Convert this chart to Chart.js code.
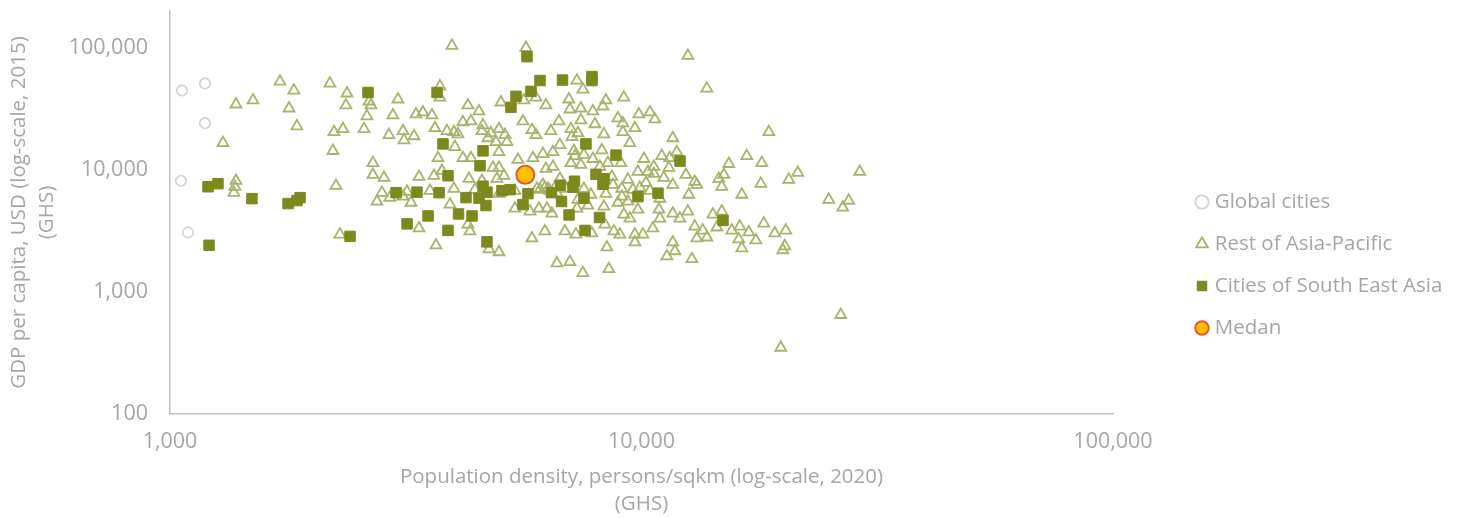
<!DOCTYPE html>
<html>
<head>
<meta charset="utf-8">
<script src="https://cdn.jsdelivr.net/npm/chart.js@4.4.1/dist/chart.umd.min.js"></script>
<style>
  html, body { margin: 0; padding: 0; background: #fff; }
  #wrap { width: 1459px; height: 518px; }
</style>
</head>
<body>
<div id="wrap"><canvas id="densityChart" width="1459" height="518"></canvas></div>
<script>
// [population density (persons/sqkm), GDP per capita (USD)]
const globalCities = [
  [1060, 44700], [1186, 51000], [1186, 24100], [1055, 8140], [1092, 3075]
];

const restOfAsia = [
  [1711, 52900], [1831, 44700], [2184, 51000], [2373, 42300], [1380, 34400],
  [1500, 37100], [1788, 31900], [2361, 33800], [2643, 36400], [2668, 33800],
  [3044, 37800], [2970, 28000], [2617, 27500], [1859, 22800], [2327, 21600],
  [2227, 20400], [2579, 21600], [2913, 19300], [1295, 16600], [2216, 14300],
  [2694, 11400], [2694, 9110], [2843, 8610], [1380, 8140], [1373, 7280],
  [1366, 6500], [2249, 7410], [2815, 6500], [2747, 5500], [2927, 5920],
  [2293, 2960], [3962, 104000], [5687, 100000], [3737, 48200], [3737, 39200],
  [4284, 33800], [4521, 30200], [5034, 35700], [5631, 37100], [5972, 39200],
  [6270, 33800], [3324, 28500], [3439, 29600], [3594, 28000], [3647, 22000],
  [3120, 20800], [3292, 18900], [3135, 17500], [3867, 20800], [4001, 20400],
  [4181, 24600], [4347, 25000], [4081, 19600], [4610, 23200], [4588, 20800],
  [4793, 20000], [4985, 21600], [4724, 18200], [4912, 16900], [5133, 19300],
  [5183, 16900], [5604, 25000], [5856, 21200], [5972, 19300], [6424, 20800],
  [6681, 25000], [4021, 15400], [3701, 12500], [4181, 12500], [4347, 12500],
  [4985, 14000], [5469, 12100], [5885, 12500], [6179, 13500], [6488, 14000],
  [4841, 10400], [4985, 10400], [4936, 8450], [5108, 8940], [4305, 8450],
  [3629, 8940], [3774, 9820], [3373, 8770], [6270, 10200], [6488, 10600],
  [4588, 8140], [4001, 7010], [3559, 6750], [3181, 6630], [3120, 6040],
  [3244, 5390], [3924, 5200], [4433, 6880], [4985, 6380], [5389, 6750],
  [5389, 4820], [5799, 4560], [6060, 4820], [6301, 4820], [6456, 4390],
  [6001, 7010], [6179, 7550], [6332, 7010], [3373, 3320], [4284, 3570],
  [4326, 3140], [6239, 3140], [5856, 2750], [3665, 2410], [4748, 2240],
  [4985, 2120], [6616, 1720], [6089, 6880], [6239, 7140], [6393, 6750],
  [6551, 7140], [6616, 6500], [12540, 86100], [13760, 46400], [7294, 53900],
  [7511, 45600], [7015, 37800], [8403, 37100], [9174, 39200], [7049, 31300],
  [7437, 31900], [7887, 30200], [8281, 33100], [9872, 28500], [10420, 29600],
  [10670, 26000], [8911, 26500], [9130, 24100], [7437, 25500], [7964, 23700],
  [9680, 22000], [7084, 21600], [7118, 18600], [7330, 20000], [8321, 19600],
  [9130, 20400], [9447, 16600], [11650, 18200], [6713, 16000], [7188, 14300],
  [7223, 13000], [7547, 13300], [8240, 14500], [7887, 12300], [7084, 11400],
  [7437, 11000], [8486, 11400], [9041, 11400], [10120, 12300], [11040, 13000],
  [11480, 12500], [11880, 14000], [9824, 9640], [10320, 9640], [10620, 10600],
  [10620, 9280], [11430, 10400], [12420, 9110], [12970, 7990], [13100, 7550],
  [14590, 8450], [6713, 8450], [6913, 7010], [7547, 7010], [8696, 7550],
  [9085, 7010], [9587, 6880], [10220, 7840], [10420, 6750], [11650, 7550],
  [12600, 6270], [7330, 5700], [7810, 6270], [8403, 6380], [9085, 6040],
  [8911, 5390], [9356, 5500], [10940, 5810], [7294, 4820], [7696, 5100],
  [8321, 5010], [9824, 4730], [10890, 4730], [9174, 4310], [9447, 4000],
  [10940, 4000], [11650, 4390], [12540, 4560], [12060, 4000], [14170, 4310],
  [10570, 3320], [8362, 3570], [8738, 3140], [8997, 2960], [6879, 3140],
  [7259, 2960], [7848, 3020], [9680, 2960], [10070, 2960], [9680, 2550],
  [12970, 3440], [13490, 3190], [13760, 2800], [13100, 2750], [14450, 3380],
  [8444, 2320], [11650, 2550], [11770, 2160], [11320, 1960], [12790, 1860],
  [7049, 1760], [7511, 1430], [8527, 1540], [8653, 8770], [9356, 8300],
  [9920, 7140], [11150, 8610], [8160, 10600], [18620, 20400], [16720, 13000],
  [15320, 11200], [17990, 11400], [14950, 9110], [21450, 9460], [20530, 8300],
  [29030, 9640], [17910, 7700], [14800, 7280], [16320, 6270], [24960, 5700],
  [27510, 5600], [26720, 4910], [14800, 4560], [18170, 3640], [16160, 3440],
  [15540, 3190], [16890, 3080], [20230, 3190], [19170, 3020], [16080, 2700],
  [17480, 2650], [16320, 2280], [20130, 2370], [19940, 2200], [26460, 649],
  [19740, 350]
];

const seaCities = [
  [2630, 43000], [1204, 7270], [1264, 7700], [1492, 5810], [1780, 5290],
  [1859, 5600], [1887, 5920], [1210, 2410], [2409, 2850], [3016, 6500],
  [5717, 84500], [3685, 43000], [6092, 53900], [6800, 54400], [7852, 58100],
  [7852, 53900], [5418, 40000], [5830, 43900], [5287, 32500], [3793, 16300],
  [4612, 14300], [4545, 10800], [7626, 16300], [8830, 13200], [12070, 11800],
  [3887, 8940], [3341, 6560], [3721, 6500], [4244, 5920], [4522, 5860],
  [4612, 7340], [4702, 6560], [4679, 5100], [5060, 6750], [5262, 6880],
  [5744, 6380], [5606, 5190], [6733, 7480], [6444, 6500], [6767, 5500],
  [7209, 8070], [7156, 7210], [8007, 9190], [8327, 8450], [8286, 7620],
  [7551, 5870], [9830, 6030], [10840, 6440], [3526, 4190], [4092, 4350],
  [4371, 4190], [3183, 3610], [3887, 3190], [7020, 4270], [8146, 4070],
  [7589, 3190], [14890, 3850], [4702, 2570]
];

const medan = [[5670, 9100]];

const seriesNames = ['Global cities', 'Rest of Asia-Pacific', 'Cities of South East Asia', 'Medan'];
const xTicks = [1000, 10000, 100000];
const yTicks = [100, 1000, 10000, 100000];

const FONT = "'Open Sans', sans-serif";
const GREY = '#a6a6a6';

function toPoints(list) {
  return list.map(p => ({ x: p[0], y: p[1] }));
}

// the legend sits in the wide right margin, nudge it to where the original has it
const legendShift = {
  id: 'legendShift',
  afterLayout(chart) {
    const l = chart.legend;
    l.left += 65; l.right += 65;
    l.top += 2; l.bottom += 2;
  }
};

const ctx = document.getElementById('densityChart');
new Chart(ctx.getContext('2d'), {
  type: 'scatter',
  data: {
    datasets: [
      {
        label: seriesNames[0],
        data: toPoints(globalCities),
        pointStyle: 'circle',
        pointRadius: 5.2,
        backgroundColor: 'rgba(0,0,0,0)',
        borderColor: '#d4d4d4',
        borderWidth: 1.8,
        order: 3
      },
      {
        label: seriesNames[1],
        data: toPoints(restOfAsia),
        pointStyle: 'triangle',
        pointRadius: 6.3,
        backgroundColor: 'rgba(0,0,0,0)',
        borderColor: '#a8b36b',
        borderWidth: 1.8,
        order: 2
      },
      {
        label: seriesNames[2],
        data: toPoints(seaCities),
        pointStyle: 'rect',
        pointRadius: 7.4,
        backgroundColor: '#7d891d',
        borderColor: '#7d891d',
        borderWidth: 1,
        order: 1
      },
      {
        label: seriesNames[3],
        data: toPoints(medan),
        pointStyle: 'circle',
        pointRadius: 9,
        backgroundColor: '#ffc000',
        borderColor: '#e4572e',
        borderWidth: 2,
        order: 0
      }
    ]
  },
  options: {
    responsive: false,
    animation: false,
    layout: { padding: { top: 8 } },
    scales: {
      x: {
        type: 'logarithmic',
        min: 1000,
        max: 100000,
        afterBuildTicks: s => { s.ticks = xTicks.map(v => ({ value: v })); },
        afterFit: s => { s.height = 104; s.paddingRight = 346; },
        grid: { display: false, drawTicks: false },
        border: { display: true, color: '#bfbfbf', width: 1.5 },
        ticks: {
          autoSkip: false, maxRotation: 0, padding: 15,
          color: GREY, font: { family: FONT, size: 21.5 },
          callback: v => Number(v).toLocaleString('en-US')
        },
        title: {
          display: true,
          text: ['Population density, persons/sqkm (log-scale, 2020)', '(GHS)'],
          color: GREY,
          font: { family: FONT, size: 20.5, lineHeight: 1.33 },
          padding: { top: 0, bottom: 0 }
        }
      },
      y: {
        type: 'logarithmic',
        min: 100,
        max: 200000,
        afterBuildTicks: s => { s.ticks = yTicks.map(v => ({ value: v })); },
        afterFit: s => { s.width = 170; s.paddingTop = 0; s.paddingBottom = 0; },
        grid: { display: false, drawTicks: false },
        border: { display: true, color: '#bfbfbf', width: 1.5 },
        ticks: {
          autoSkip: false, padding: 22,
          color: GREY, font: { family: FONT, size: 21.5 },
          callback: v => Number(v).toLocaleString('en-US')
        },
        title: {
          display: true,
          text: ['GDP per capita, USD (log-scale, 2015)', '(GHS)'],
          color: GREY,
          font: { family: FONT, size: 20.5, lineHeight: 1.33 },
          padding: { top: 6, bottom: 0 }
        }
      }
    },
    plugins: {
      tooltip: { enabled: false },
      legend: {
        position: 'right',
        labels: {
          usePointStyle: true,
          boxWidth: 5,
          boxHeight: 9.5,
          padding: 21.5,
          color: GREY,
          font: { family: FONT, size: 20.5 },
          sort: (a, b) => a.datasetIndex - b.datasetIndex
        }
      }
    }
  },
  plugins: [legendShift]
});
</script>
</body>
</html>
